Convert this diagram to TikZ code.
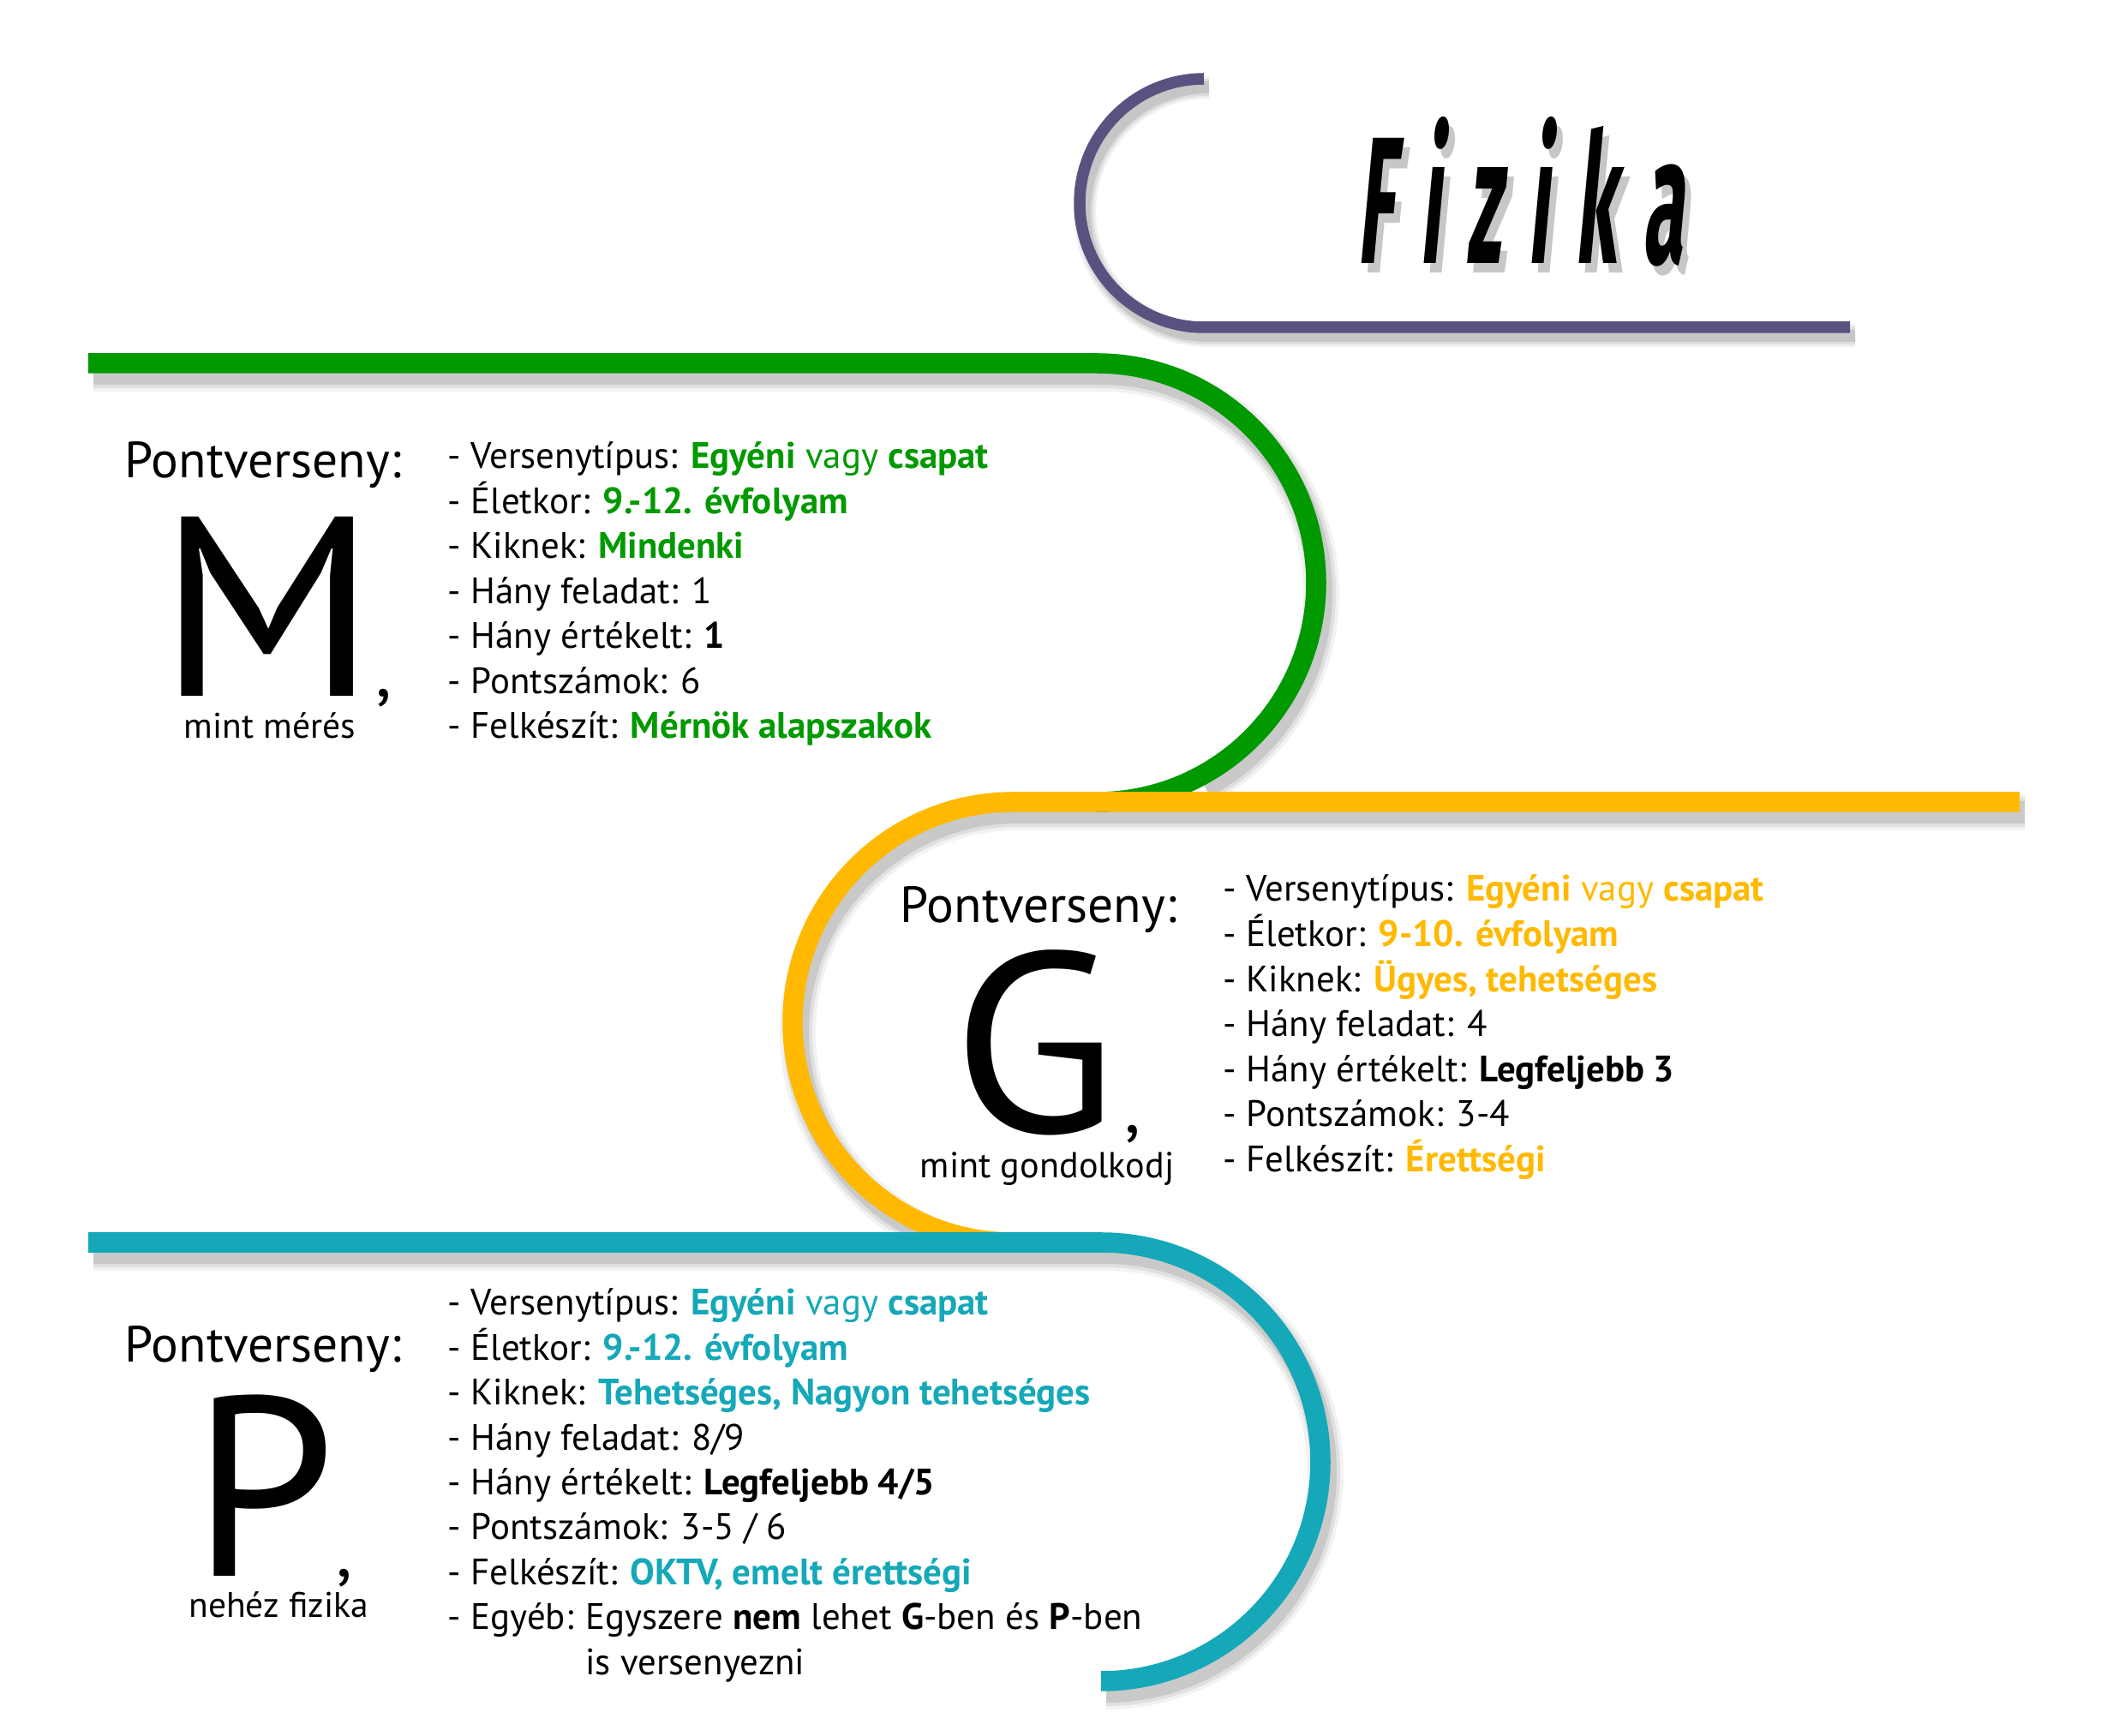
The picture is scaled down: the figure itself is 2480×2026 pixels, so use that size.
\documentclass[tikz,border=0pt]{standalone}
\usepackage{fontspec}
\setmainfont{PT Sans}
\newfontfamily\titlefont{Fira Sans}
\definecolor{cgreen}{RGB}{0,153,0}
\definecolor{cyellow}{RGB}{255,185,0}
\definecolor{cteal}{RGB}{21,168,184}
\definecolor{cpurple}{RGB}{88,82,128}
\newcommand\hb[2]{\textcolor{#1}{\bfseries #2}}
\newcommand\hr[2]{\textcolor{#1}{#2}}
\newcommand\fizikatext{F\kern0.34em i\kern0.34em z\kern0.34em i\kern0.34em k\kern0.34em a}
\begin{document}
\begin{tikzpicture}[x=0.01cm,y=0.01cm,
  band/.style={line width=0.235cm, line cap=butt},
  listtxt/.style={anchor=base west, inner sep=0, font=\fontsize{12.2}{14}\selectfont},
  ptxt/.style={anchor=base west, inner sep=0, font=\fontsize{16.9}{19}\selectfont},
  bigl/.style={anchor=base, inner sep=0, font=\fontsize{85}{90}\selectfont},
  comm/.style={anchor=base west, inner sep=0, font=\fontsize{24}{28}\selectfont},
  subtxt/.style={anchor=base, inner sep=0, font=\fontsize{11.8}{14}\selectfont},
  titlestyle/.style={anchor=base west, inner sep=0, xscale=0.42, xslant=0.22, transform shape, font=\titlefont\bfseries\fontsize{60}{70}\selectfont}]
\useasboundingbox (0,0) rectangle (2480,2026);
\fill[white] (0,0) rectangle (2480,2026);
\def\ppurple{(2159,1644) -- (1405,1644) arc[start angle=270,end angle=90,radius=145]}
\def\pgreen{(103,1602) -- (1280,1602) arc[start angle=90,end angle=-90,radius=256]}
\def\pgreensh{(103,1602) -- (1280,1602) arc[start angle=90,end angle=-62,radius=256]}
\def\pyellow{(2357,1090) -- (1182,1090) arc[start angle=90,end angle=270,radius=257]}
\def\pyellowsh{(2357,1090) -- (1182,1090) arc[start angle=90,end angle=245,radius=257]}
\def\pteal{(103,576) -- (1285,576) arc[start angle=90,end angle=-90,radius=256]}
% purple
\foreach \w/\o in {0.26/0.06,0.20/0.08,0.14/0.1}{\draw[line width=\w cm, black, opacity=\o, shift={(6,-10)}] \ppurple;}
\draw[line width=0.135cm, cpurple] \ppurple;
% green
\foreach \w/\o in {0.42/0.05,0.34/0.07,0.26/0.1}{\draw[line width=\w cm, black, opacity=\o, shift={(6,-12)}] \pgreensh;}
\draw[band, cgreen] \pgreen;
% yellow
\foreach \w/\o in {0.42/0.05,0.34/0.07,0.26/0.1}{\draw[line width=\w cm, black, opacity=\o, shift={(6,-12)}] \pyellowsh;}
\draw[band, cyellow] \pyellow;
% teal
\foreach \w/\o in {0.42/0.05,0.34/0.07,0.26/0.1}{\draw[line width=\w cm, black, opacity=\o, shift={(6,-12)}] \pteal;}
\draw[band, cteal] \pteal;
% title
\begin{scope}[shift={(1590,1707)}]
\node[titlestyle, opacity=0.22, text=black] (titsh) at (0,0) {\fizikatext};
\end{scope}
\begin{scope}[shift={(1583,1718)}]
\node[titlestyle] (title) at (0,0) {\fizikatext};
\end{scope}
% M block
\node[ptxt] (mp) at (145,1468) {Pontverseny:};
\node[bigl] (mM) at (312,1213) {\scalebox{1.08}[1]{M}};
\node[comm] (mc) at (438,1213) {,};
\node[subtxt] (ms) at (315,1164) {mint mérés};
\node[listtxt] (m1) at (522,1479) {- Versenytípus: \hb{cgreen}{Egyéni} \hr{cgreen}{vagy} \hb{cgreen}{csapat}};
\node[listtxt] (m2) at (522,1426.5) {- Életkor: \hb{cgreen}{9.-12. évfolyam}};
\node[listtxt] (m3) at (522,1374) {- Kiknek: \hb{cgreen}{Mindenki}};
\node[listtxt] (m4) at (522,1321.5) {- Hány feladat: 1};
\node[listtxt] (m5) at (522,1269) {- Hány értékelt: \textbf{1}};
\node[listtxt] (m6) at (522,1216.5) {- Pontszámok: 6};
\node[listtxt] (m7) at (522,1164) {- Felkészít: \hb{cgreen}{Mérnök alapszakok}};
% G block
\node[ptxt] (gp) at (1050,949) {Pontverseny:};
\node[bigl] (gG) at (1208,704) {\scalebox{1.05}[1]{G}};
\node[comm] (gc) at (1312,704) {,};
\node[subtxt, font=\fontsize{12}{14}\selectfont] (gs) at (1222,651) {mint gondolkodj};
\node[listtxt] (g1) at (1427,974) {- Versenytípus: \hb{cyellow}{Egyéni} \hr{cyellow}{vagy} \hb{cyellow}{csapat}};
\node[listtxt] (g2) at (1427,921.4) {- Életkor: \hb{cyellow}{9-10. évfolyam}};
\node[listtxt] (g3) at (1427,868.8) {- Kiknek: \hb{cyellow}{Ügyes, tehetséges}};
\node[listtxt] (g4) at (1427,816.2) {- Hány feladat: 4};
\node[listtxt] (g5) at (1427,763.6) {- Hány értékelt: \textbf{Legfeljebb 3}};
\node[listtxt] (g6) at (1427,711) {- Pontszámok: 3-4};
\node[listtxt] (g7) at (1427,658.4) {- Felkészít: \hb{cyellow}{Érettségi}};
% P block
\node[ptxt] (pp) at (145,436) {Pontverseny:};
\node[bigl] (pP) at (308,186) {P};
\node[comm] (pc) at (392,186) {,};
\node[subtxt] (ps) at (325,138) {nehéz fizika};
\node[listtxt] (p1) at (522,491) {- Versenytípus: \hb{cteal}{Egyéni} \hr{cteal}{vagy} \hb{cteal}{csapat}};
\node[listtxt] (p2) at (522,438.6) {- Életkor: \hb{cteal}{9.-12. évfolyam}};
\node[listtxt] (p3) at (522,386.2) {- Kiknek: \hb{cteal}{Tehetséges, Nagyon tehetséges}};
\node[listtxt] (p4) at (522,333.8) {- Hány feladat: 8/9};
\node[listtxt] (p5) at (522,281.4) {- Hány értékelt: \textbf{Legfeljebb 4/5}};
\node[listtxt] (p6) at (522,229) {- Pontszámok: 3-5 / 6};
\node[listtxt] (p7) at (522,176.6) {- Felkészít: \hb{cteal}{OKTV, emelt érettségi}};
\node[listtxt] (p8a) at (522,124.2) {- Egyéb:};
\node[listtxt] (p8b) at ([xshift=3.5pt]p8a.base east) {Egyszere \textbf{nem} lehet \textbf{G}-ben és \textbf{P}-ben};
\coordinate (l9) at (0,71.8);
\node[listtxt] (p9) at (p8b.base west |- l9) {is versenyezni};
\end{tikzpicture}
\end{document}
